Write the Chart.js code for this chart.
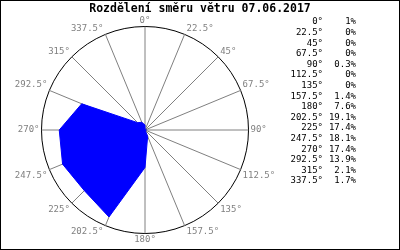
<html>
    <head>
        <meta charset="utf-8">
        <title>Rozdělení směru větru</title>
        <script src="https://cdn.jsdelivr.net/npm/chart.js@4/dist/chart.umd.min.js"></script>
        <style type="text/css">
            body {
                margin: 0;
                background: #ffffff;
            }
        </style>
    </head>
    <body>
        <canvas id="windChart" width="400" height="250"></canvas>
        <script>
            // wind directions (degrees) and share of time per direction (%)
            var directions = [0, 22.5, 45, 67.5, 90, 112.5, 135, 157.5, 180, 202.5, 225, 247.5, 270, 292.5, 315, 337.5];
            var shares = [1, 0, 0, 0, 0.3, 0, 0, 1.4, 7.6, 19.1, 17.4, 18.1, 17.4, 13.9, 2.1, 1.7];
            var scaleMax = 21;
            var chartTitle = 'Rozdělení směru větru 07.06.2017';

            var mono = '"DejaVu Sans Mono", "Liberation Mono", monospace';

            // white background + frame
            var framePlugin = {
                id: 'frame',
                beforeDraw: function(chart) {
                    var ctx = chart.ctx;
                    ctx.save();
                    ctx.fillStyle = '#ffffff';
                    ctx.fillRect(0, 0, chart.width, chart.height);
                    ctx.restore();
                },
                afterDraw: function(chart) {
                    var ctx = chart.ctx;
                    ctx.save();
                    ctx.strokeStyle = '#000000';
                    ctx.lineWidth = 1;
                    ctx.strokeRect(0.5, 0.5, chart.width - 1, chart.height - 1);
                    ctx.restore();
                }
            };

            // degree labels round the circle, placed like the old gd charts
            var dirLabelsPlugin = {
                id: 'dirLabels',
                afterDraw: function(chart) {
                    var scale = chart.scales.r;
                    var ctx = chart.ctx;
                    ctx.save();
                    ctx.font = '9px ' + mono;
                    ctx.fillStyle = '#808080';
                    directions.forEach(function(d, i) {
                        var p = scale.getPointPosition(i, scale.drawingArea);
                        var x = p.x, y = p.y;
                        var text = d + '°';
                        if (d === 0 || d === 180) {
                            ctx.textAlign = 'center';
                        } else if (d < 180) {
                            ctx.textAlign = 'left';
                            x += 2;
                        } else {
                            ctx.textAlign = 'right';
                            x -= 2;
                        }
                        if (d === 90 || d === 270) {
                            ctx.textBaseline = 'middle';
                        } else if (d < 90 || d > 270) {
                            ctx.textBaseline = 'bottom';
                            y -= 1;
                        } else {
                            ctx.textBaseline = 'top';
                            y += 2;
                        }
                        ctx.fillText(text, x, y);
                    });
                    ctx.restore();
                }
            };

            // value table on the right
            var tablePlugin = {
                id: 'valueTable',
                afterDraw: function(chart) {
                    var ctx = chart.ctx;
                    ctx.save();
                    ctx.font = '9px ' + mono;
                    ctx.fillStyle = '#000000';
                    ctx.textBaseline = 'middle';
                    directions.forEach(function(d, i) {
                        var y = 22 + i * 10.6;
                        ctx.textAlign = 'right';
                        ctx.fillText(d + '°', 323, y);
                        ctx.fillText(shares[i] + '%', 356, y);
                    });
                    ctx.restore();
                }
            };

            var windCtx = document.getElementById('windChart').getContext('2d');
            var windChart = new Chart(windCtx, {
                type: 'radar',
                data: {
                    labels: directions.map(function(d) { return d + '°'; }),
                    datasets: [{
                        label: 'směr větru',
                        data: shares,
                        backgroundColor: '#0000ff',
                        borderColor: '#0000ff',
                        borderWidth: 1,
                        pointRadius: 0,
                        fill: true
                    }]
                },
                options: {
                    responsive: false,
                    animation: false,
                    devicePixelRatio: 1,
                    plugins: {
                        legend: { display: false },
                        tooltip: { enabled: false },
                        title: {
                            display: true,
                            text: chartTitle,
                            color: '#000000',
                            font: { family: mono, size: 11.5, weight: 'bold' },
                            padding: { top: 2, bottom: 2 }
                        }
                    },
                    scales: {
                        r: {
                            min: 0,
                            max: scaleMax,
                            ticks: { display: false, stepSize: scaleMax },
                            pointLabels: { display: false },
                            grid: { color: '#000000', lineWidth: 1, circular: true },
                            angleLines: { color: '#808080', lineWidth: 1 },
                            // fixed geometry of the wind rose
                            afterFit: function(scale) {
                                scale.xCenter = 145;
                                scale.yCenter = 130;
                                scale.drawingArea = 103.5;
                            }
                        }
                    }
                },
                plugins: [framePlugin, dirLabelsPlugin, tablePlugin]
            });
        </script>
    </body>
</html>
